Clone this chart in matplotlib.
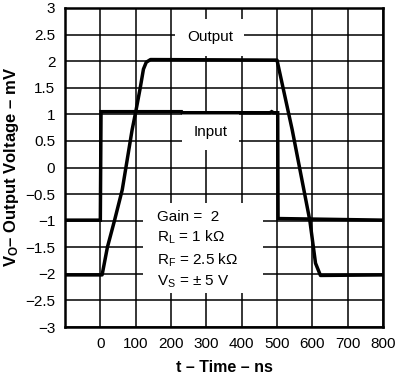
import matplotlib
matplotlib.use("Agg")
import matplotlib.pyplot as plt
from matplotlib.patches import Rectangle

plt.rcParams.update({
    "font.family": ["Liberation Sans", "DejaVu Sans"],
    "font.size": 11,
    "mathtext.fontset": "custom",
    "mathtext.rm": "Liberation Sans",
    "mathtext.it": "Liberation Sans:italic",
    "mathtext.bf": "Liberation Sans:bold",
})

# output trace (ns, mV)
out_t = [-100, 5, 20, 40, 62, 90, 100, 113, 122, 130, 142, 500, 543, 593, 609, 623, 800]
out_v = [-2.02, -2.02, -1.5, -1.0, -0.42, 0.71, 1.04, 1.5, 1.85, 1.98, 2.03,
         2.02, 0.71, -1.0, -1.8, -2.03, -2.02]

# input trace (ns, mV)
in_t = [-100, 0, 2, 230, 232, 480, 485, 490, 502, 503, 800]
in_v = [-0.99, -0.99, 1.05, 1.05, 1.03, 1.03, 1.05, 1.03, 1.03, -0.96, -0.99]

x_ticks = [-100, 0, 100, 200, 300, 400, 500, 600, 700, 800]
x_labels = [""] + [str(v) for v in x_ticks[1:]]
y_ticks = [-3, -2.5, -2, -1.5, -1, -0.5, 0, 0.5, 1, 1.5, 2, 2.5, 3]

cond_lines = ["Gain =  2",
              r"R$\mathregular{_L}$ = 1 k$\mathregular{\Omega}$",
              r"R$\mathregular{_F}$ = 2.5 k$\mathregular{\Omega}$",
              r"V$\mathregular{_S}$ = $\mathregular{\pm}$ 5 V"]
cond_y = [-0.93, -1.32, -1.74, -2.15]

fig = plt.figure(figsize=(4.0, 3.77), dpi=100)
ax = fig.add_axes([0.1625, 0.1326, 0.795, 0.8462])

ax.plot(in_t, in_v, color="black", lw=2.5, zorder=4, solid_joinstyle="miter")
ax.plot(out_t, out_v, color="black", lw=2.5, zorder=4)

ax.set_xlim(-100, 800)
ax.set_ylim(-3, 3)
ax.set_xticks(x_ticks)
ax.set_xticklabels(x_labels)
ax.set_yticks(y_ticks)
ax.set_yticklabels([f"{v:g}".replace("-", "\u2212") for v in y_ticks])
ax.tick_params(length=0, pad=7)
ax.grid(True, color="black", lw=1.1)
ax.set_axisbelow(True)
for s in ax.spines.values():
    s.set_linewidth(1.8)

# labels with white backgrounds
box = dict(boxstyle="square,pad=0.75", facecolor="white", edgecolor="none")
ax.text(310, 2.45, "Output", ha="center", va="center", bbox=box, zorder=3)
ax.text(312, 0.67, "Input", ha="center", va="center", bbox=box, zorder=3)

ax.add_patch(Rectangle((122, -2.36), 337, 1.69, facecolor="white",
                       edgecolor="none", zorder=2))
for txt, yy in zip(cond_lines, cond_y):
    ax.text(161, yy, txt, ha="left", va="center", zorder=3)

ax.set_xlabel("t \u2013 Time \u2013 ns", fontweight="bold", fontsize=11.5, labelpad=7)
ax.set_ylabel("V$\\mathbf{_O}$\u2013 Output Voltage \u2013 mV",
              fontweight="bold", fontsize=12, labelpad=3)

fig.savefig("out.png", dpi=100)
